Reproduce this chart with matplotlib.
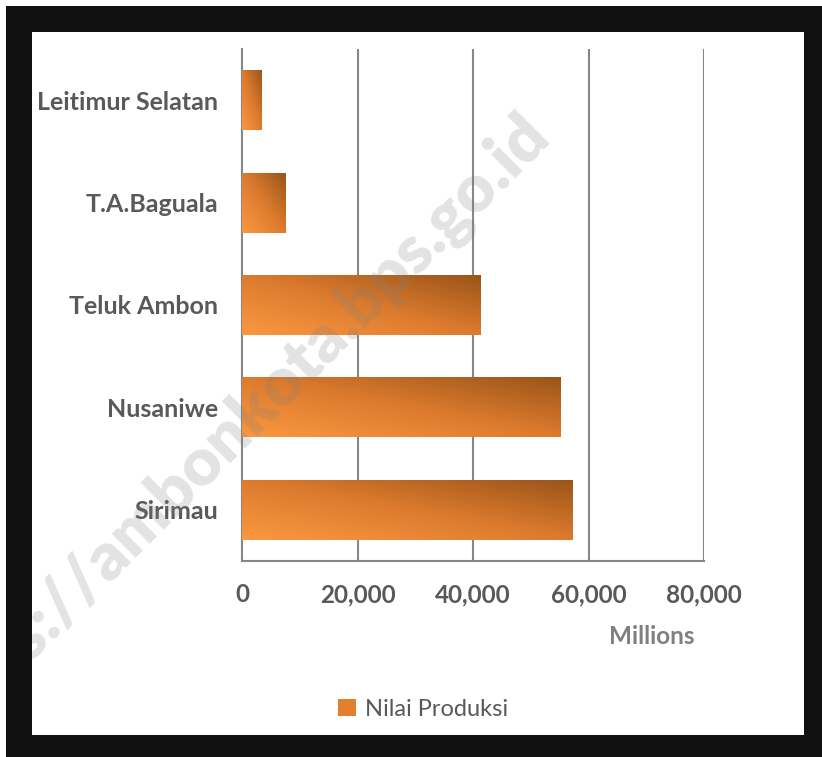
import numpy as np
import matplotlib
matplotlib.use("Agg")
import matplotlib.pyplot as plt
from matplotlib.colors import LinearSegmentedColormap
from matplotlib.patches import Rectangle, Patch

# data (bottom to top as drawn)
kecamatan = ["Sirimau", "Nusaniwe", "Teluk Ambon", "T.A.Baguala", "Leitimur Selatan"]
nilai_produksi = [57300, 55200, 41300, 7450, 3400]  # juta rupiah
xticks = [0, 20000, 40000, 60000, 80000]
xtick_labels = ["0", "20,000", "40,000", "60,000", "80,000"]

W, H = 822, 757
fig = plt.figure(figsize=(W / 100, H / 100), dpi=100)
fig.patch.set_facecolor("white")

# black frame + white inner area
fig.patches.append(Rectangle((6 / W, 0), 1 - 6 / W, 1 - 6 / H, transform=fig.transFigure,
                             facecolor="#111111", edgecolor="none", zorder=-10))
inner = Rectangle((32 / W, 1 - 735 / H), (804 - 32) / W, (735 - 32) / H,
                  transform=fig.transFigure, facecolor="white", edgecolor="none", zorder=-9)
fig.patches.append(inner)

ax = fig.add_axes([242 / W, 1 - 561 / H, (704 - 242) / W, (561 - 49) / H])
ax.set_facecolor("none")

cmap = LinearSegmentedColormap.from_list("oranye", ["#fa9840", "#dc7b2e", "#9a5419"])
u = np.linspace(0, 1, 200)
v = np.linspace(0, 1, 40)
grad = (u[None, :] + v[:, None]) / 2

ypos = np.arange(len(kecamatan))
bar_h = 0.586
bars = ax.barh(ypos, nilai_produksi, height=bar_h, color="none", zorder=3)
for b, y, val in zip(bars, ypos, nilai_produksi):
    im = ax.imshow(grad, extent=[0, val, y - bar_h / 2, y + bar_h / 2], origin="lower",
                   cmap=cmap, aspect="auto", zorder=3, interpolation="bilinear")
    im.set_clip_path(b)

ax.set_xlim(0, 80000)
ax.set_ylim(-0.5, 4.5)
ax.set_xticks(xticks)
ax.set_xticklabels(xtick_labels)
ax.set_yticks(ypos)
ax.set_yticklabels(kecamatan)

for x in xticks[1:]:
    ax.axvline(x, color="#878787", lw=1.5, zorder=1)
for s in ["top", "right"]:
    ax.spines[s].set_visible(False)
for s in ["left", "bottom"]:
    ax.spines[s].set_color("#878787")
    ax.spines[s].set_linewidth(1.5)

for t in ax.get_xticklabels():
    t.set_fontfamily("Lato")
    t.set_fontweight("bold")
    t.set_fontsize(17.5)
    t.set_color("#595959")
for t in ax.get_yticklabels():
    t.set_fontfamily("Lato")
    t.set_fontweight("bold")
    t.set_fontsize(18)
    t.set_color("#595959")
ax.tick_params(axis="both", length=0)
ax.tick_params(axis="y", pad=17)
ax.tick_params(axis="x", pad=16)

fig.text(652 / W, 1 - 636 / H, "Millions", ha="center", va="center",
         family="Lato", weight="bold", size=17.5, color="#7f7f7f")

handle = Patch(facecolor="#e3802f", edgecolor="none")
fig.legend([handle], ["Nilai Produksi"], loc="center", bbox_to_anchor=(423 / W, 1 - 709 / H),
           frameon=False, prop=dict(family="Lato", size=17), labelcolor="#595959",
           handlelength=0.75, handleheight=0.75, handletextpad=0.4)

# watermark
wm = fig.text(552 / W, 1 - 138 / H, "https://ambonkota.bps.go.id", rotation=45,
              rotation_mode="anchor", ha="right", va="baseline",
              family="Lato", weight="heavy", size=48, color="#808080", alpha=0.22, zorder=20)
wm.set_clip_path(inner)

fig.savefig("out.png", dpi=100)
